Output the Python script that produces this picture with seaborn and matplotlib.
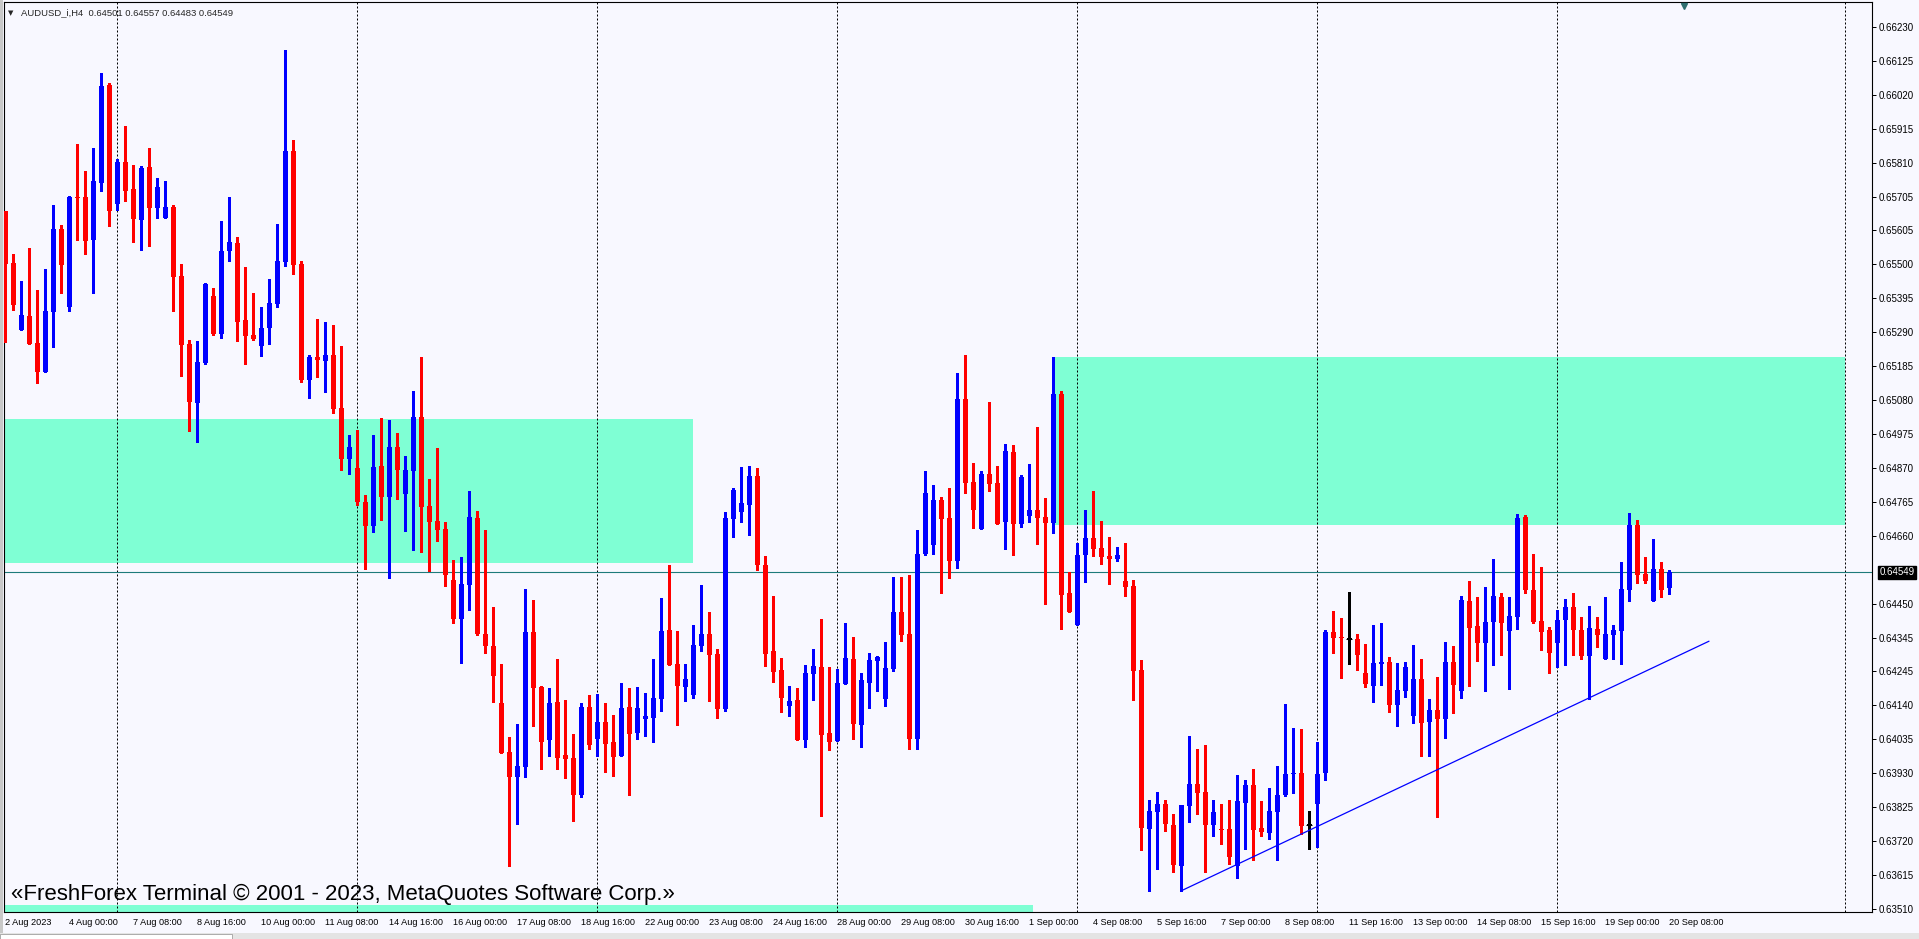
import matplotlib
matplotlib.use("Agg")
import matplotlib.pyplot as plt
import matplotlib.transforms as mtransforms
from matplotlib.patches import Rectangle
import numpy as np
import pandas as pd
import seaborn as sns

# ---- data (2 Aug 16:00 .. 20 Sep 08:00) ----
symbol = "AUDUSD_i,H4"
last_quote = "0.64501 0.64557 0.64483 0.64549"
watermark = "\u00abFreshForex Terminal \u00a9 2001 - 2023, MetaQuotes Software Corp.\u00bb"

opens = [
    0.65663, 0.65502, 0.65296, 0.65339, 0.65256, 0.65166, 0.65351, 0.65607, 0.65366, 0.65706,
    0.65706, 0.65573, 0.65749, 0.66051, 0.65684, 0.65814, 0.65730, 0.65635, 0.65798, 0.65672,
    0.65641, 0.65675, 0.65462, 0.65253, 0.65071, 0.65194, 0.65400, 0.65283, 0.65539, 0.65564,
    0.65326, 0.65280, 0.65246, 0.65302, 0.65376, 0.65505, 0.65848, 0.65499, 0.65141, 0.65212,
    0.65200, 0.65218, 0.65055, 0.64898, 0.64870, 0.64765, 0.64691, 0.64876, 0.64781, 0.64935,
    0.64790, 0.64861, 0.65027, 0.64753, 0.64707, 0.64682, 0.64525, 0.64404, 0.64509, 0.64716,
    0.64358, 0.64321, 0.64145, 0.63994, 0.63917, 0.63948, 0.64364, 0.64195, 0.64031, 0.64149,
    0.63985, 0.63976, 0.63862, 0.64133, 0.64034, 0.64087, 0.64025, 0.63982, 0.64133, 0.64053,
    0.64096, 0.64099, 0.64158, 0.64370, 0.64266, 0.64195, 0.64170, 0.64321, 0.64358, 0.64297,
    0.64127, 0.64713, 0.64734, 0.64756, 0.64845, 0.64571, 0.64306, 0.64247, 0.64136, 0.64155,
    0.64031, 0.64235, 0.64257, 0.64053, 0.64028, 0.64204, 0.64281, 0.64078, 0.64207, 0.64275,
    0.64158, 0.64250, 0.64426, 0.64358, 0.64034, 0.64605, 0.64633, 0.64771, 0.64716, 0.64583,
    0.65083, 0.64827, 0.64682, 0.64852, 0.64824, 0.64704, 0.64919, 0.64698, 0.64722, 0.64741,
    0.64719, 0.64701, 0.65099, 0.64485, 0.64386, 0.64602, 0.64654, 0.64623, 0.64599, 0.64591,
    0.64521, 0.64506, 0.64247, 0.63757, 0.63809, 0.63834, 0.63769, 0.63642, 0.63828, 0.63896,
    0.63871, 0.63769, 0.63757, 0.63757, 0.63642, 0.63837, 0.63893, 0.63760, 0.63744, 0.63809,
    0.63862, 0.63927, 0.63930, 0.63769, 0.63834, 0.63930, 0.64364, 0.64349, 0.64343, 0.64343,
    0.64238, 0.64198, 0.64266, 0.64272, 0.64139, 0.64182, 0.64105, 0.64219, 0.64087, 0.64124,
    0.64096, 0.64272, 0.64182, 0.64460, 0.64383, 0.64330, 0.64395, 0.64472, 0.64367, 0.64410,
    0.64719, 0.64494, 0.64398, 0.64370, 0.64330, 0.64401, 0.64441, 0.64370, 0.64290, 0.64374,
    0.64281, 0.64355, 0.64367, 0.64494, 0.64695, 0.64543, 0.64460, 0.64559, 0.64501,
]
highs = [
    0.65663, 0.65530, 0.65447, 0.65549, 0.65419, 0.65484, 0.65681, 0.65620, 0.65709, 0.65869,
    0.65786, 0.65857, 0.66088, 0.66057, 0.65823, 0.65925, 0.65805, 0.65801, 0.65857, 0.65764,
    0.65755, 0.65681, 0.65499, 0.65265, 0.65262, 0.65441, 0.65425, 0.65632, 0.65706, 0.65582,
    0.65490, 0.65410, 0.65366, 0.65453, 0.65622, 0.66159, 0.65882, 0.65508, 0.65218, 0.65330,
    0.65320, 0.65311, 0.65246, 0.64972, 0.64987, 0.64787, 0.64972, 0.65024, 0.65018, 0.64978,
    0.64907, 0.65107, 0.65212, 0.64836, 0.64932, 0.64704, 0.64586, 0.64596, 0.64799, 0.64738,
    0.64679, 0.64441, 0.64266, 0.64040, 0.64081, 0.64497, 0.64463, 0.64198, 0.64192, 0.64281,
    0.64155, 0.64050, 0.64145, 0.64170, 0.64173, 0.64145, 0.64109, 0.64207, 0.64192, 0.64195,
    0.64176, 0.64281, 0.64469, 0.64571, 0.64367, 0.64266, 0.64386, 0.64510, 0.64426, 0.64312,
    0.64734, 0.64808, 0.64873, 0.64876, 0.64870, 0.64599, 0.64475, 0.64284, 0.64198, 0.64192,
    0.64263, 0.64312, 0.64404, 0.64257, 0.64250, 0.64392, 0.64349, 0.64238, 0.64300, 0.64290,
    0.64334, 0.64534, 0.64534, 0.64540, 0.64679, 0.64861, 0.64818, 0.64781, 0.64808, 0.65163,
    0.65218, 0.64885, 0.64861, 0.65074, 0.64876, 0.64944, 0.64941, 0.64849, 0.64882, 0.64996,
    0.64778, 0.65212, 0.65107, 0.64549, 0.64639, 0.64741, 0.64799, 0.64707, 0.64657, 0.64626,
    0.64639, 0.64525, 0.64278, 0.63846, 0.63871, 0.63846, 0.63803, 0.63831, 0.64043, 0.64003,
    0.64016, 0.63846, 0.63834, 0.63846, 0.63923, 0.63908, 0.63942, 0.63843, 0.63883, 0.63951,
    0.64142, 0.64068, 0.64065, 0.63812, 0.64025, 0.64370, 0.64429, 0.64407, 0.64488, 0.64358,
    0.64327, 0.64386, 0.64392, 0.64287, 0.64269, 0.64272, 0.64324, 0.64281, 0.64158, 0.64225,
    0.64334, 0.64321, 0.64475, 0.64521, 0.64472, 0.64503, 0.64589, 0.64485, 0.64472, 0.64728,
    0.64725, 0.64605, 0.64565, 0.64380, 0.64432, 0.64466, 0.64485, 0.64410, 0.64444, 0.64410,
    0.64472, 0.64386, 0.64580, 0.64731, 0.64710, 0.64596, 0.64651, 0.64580, 0.64557,
]
lows = [
    0.65259, 0.65357, 0.65296, 0.65253, 0.65132, 0.65166, 0.65243, 0.65410, 0.65354, 0.65573,
    0.65530, 0.65410, 0.65724, 0.65616, 0.65666, 0.65693, 0.65567, 0.65542, 0.65555, 0.65641,
    0.65641, 0.65354, 0.65154, 0.64984, 0.64950, 0.65191, 0.65281, 0.65271, 0.65508, 0.65262,
    0.65191, 0.65265, 0.65215, 0.65253, 0.65366, 0.65493, 0.65469, 0.65135, 0.65086, 0.65151,
    0.65105, 0.65040, 0.64864, 0.64852, 0.64756, 0.64559, 0.64673, 0.64710, 0.64531, 0.64775,
    0.64676, 0.64617, 0.64611, 0.64552, 0.64645, 0.64506, 0.64392, 0.64269, 0.64432, 0.64355,
    0.64300, 0.64149, 0.63991, 0.63642, 0.63772, 0.63917, 0.64074, 0.63942, 0.63982, 0.63942,
    0.63914, 0.63781, 0.63855, 0.64003, 0.63982, 0.63933, 0.63920, 0.63982, 0.63862, 0.64034,
    0.64043, 0.64025, 0.64121, 0.64263, 0.64078, 0.64152, 0.64161, 0.64306, 0.64152, 0.64099,
    0.64121, 0.64657, 0.64704, 0.64664, 0.64555, 0.64260, 0.64210, 0.64118, 0.64105, 0.64031,
    0.64010, 0.64155, 0.63797, 0.64000, 0.64028, 0.64204, 0.64034, 0.64010, 0.64130, 0.64182,
    0.64136, 0.64244, 0.64337, 0.64003, 0.64003, 0.64602, 0.64605, 0.64485, 0.64531, 0.64561,
    0.64793, 0.64685, 0.64682, 0.64799, 0.64698, 0.64620, 0.64602, 0.64688, 0.64704, 0.64636,
    0.64451, 0.64670, 0.64374, 0.64426, 0.64386, 0.64518, 0.64599, 0.64574, 0.64513, 0.64583,
    0.64475, 0.64155, 0.63692, 0.63566, 0.63633, 0.63750, 0.63624, 0.63566, 0.63778, 0.63803,
    0.63624, 0.63735, 0.63711, 0.63649, 0.63606, 0.63695, 0.63661, 0.63735, 0.63726, 0.63661,
    0.63859, 0.63868, 0.63741, 0.63695, 0.63701, 0.63908, 0.64300, 0.64222, 0.64266, 0.64247,
    0.64195, 0.64149, 0.64201, 0.64118, 0.64074, 0.64164, 0.64084, 0.63982, 0.63982, 0.63794,
    0.64037, 0.64115, 0.64161, 0.64198, 0.64275, 0.64182, 0.64263, 0.64294, 0.64188, 0.64374,
    0.64485, 0.64392, 0.64309, 0.64238, 0.64257, 0.64263, 0.64294, 0.64281, 0.64158, 0.64318,
    0.64281, 0.64281, 0.64266, 0.64460, 0.64516, 0.64516, 0.64460, 0.64472, 0.64483,
]
closes = [
    0.65499, 0.65373, 0.65342, 0.65253, 0.65166, 0.65354, 0.65607, 0.65496, 0.65706, 0.65703,
    0.65570, 0.65755, 0.66048, 0.65663, 0.65814, 0.65724, 0.65638, 0.65795, 0.65672, 0.65736,
    0.65675, 0.65459, 0.65249, 0.65074, 0.65197, 0.65438, 0.65283, 0.65539, 0.65567, 0.65320,
    0.65277, 0.65268, 0.65302, 0.65379, 0.65508, 0.65848, 0.65496, 0.65141, 0.65212, 0.65203,
    0.65218, 0.65052, 0.64898, 0.64935, 0.64765, 0.64691, 0.64873, 0.64781, 0.64935, 0.64864,
    0.64864, 0.65027, 0.64750, 0.64704, 0.64679, 0.64540, 0.64404, 0.64513, 0.64719, 0.64358,
    0.64321, 0.64228, 0.63991, 0.63917, 0.63951, 0.64364, 0.64192, 0.64025, 0.64145, 0.63976,
    0.63973, 0.63862, 0.64133, 0.64016, 0.64087, 0.64019, 0.63979, 0.64130, 0.64050, 0.64130,
    0.64105, 0.64161, 0.64367, 0.64263, 0.64198, 0.64219, 0.64324, 0.64358, 0.64294, 0.64127,
    0.64716, 0.64802, 0.64762, 0.64845, 0.64571, 0.64297, 0.64241, 0.64161, 0.64152, 0.64031,
    0.64238, 0.64260, 0.64047, 0.64025, 0.64207, 0.64284, 0.64081, 0.64216, 0.64278, 0.64287,
    0.64253, 0.64426, 0.64355, 0.64034, 0.64605, 0.64793, 0.64771, 0.64713, 0.64583, 0.65083,
    0.64824, 0.64741, 0.64852, 0.64821, 0.64698, 0.64922, 0.64698, 0.64842, 0.64741, 0.64716,
    0.64701, 0.65099, 0.64479, 0.64426, 0.64602, 0.64654, 0.64620, 0.64596, 0.64591, 0.64602,
    0.64503, 0.64244, 0.63760, 0.63812, 0.63834, 0.63772, 0.63646, 0.63831, 0.63896, 0.63868,
    0.63769, 0.63809, 0.63754, 0.63670, 0.63843, 0.63893, 0.63754, 0.63748, 0.63812, 0.63862,
    0.63927, 0.63930, 0.63766, 0.63769, 0.63927, 0.64364, 0.64346, 0.64346, 0.64343, 0.64294,
    0.64204, 0.64269, 0.64272, 0.64139, 0.64185, 0.64257, 0.64219, 0.64084, 0.64124, 0.64096,
    0.64272, 0.64201, 0.64463, 0.64377, 0.64330, 0.64395, 0.64475, 0.64392, 0.64414, 0.64716,
    0.64494, 0.64395, 0.64364, 0.64300, 0.64401, 0.64441, 0.64370, 0.64290, 0.64377, 0.64355,
    0.64358, 0.64370, 0.64497, 0.64695, 0.64540, 0.64522, 0.64559, 0.64494, 0.64549,
]

date_labels = [
    "2 Aug 2023", "4 Aug 00:00", "7 Aug 08:00", "8 Aug 16:00", "10 Aug 00:00", "11 Aug 08:00",
    "14 Aug 16:00", "16 Aug 00:00", "17 Aug 08:00", "18 Aug 16:00", "22 Aug 00:00",
    "23 Aug 08:00", "24 Aug 16:00", "28 Aug 00:00", "29 Aug 08:00", "30 Aug 16:00",
    "1 Sep 00:00", "4 Sep 08:00", "5 Sep 16:00", "7 Sep 00:00", "8 Sep 08:00", "11 Sep 16:00",
    "13 Sep 00:00", "14 Sep 08:00", "15 Sep 16:00", "19 Sep 00:00", "20 Sep 08:00",
]
price_ticks = [
    0.66230, 0.66125, 0.66020, 0.65915, 0.65810, 0.65705, 0.65605, 0.65500, 0.65395, 0.65290,
    0.65185, 0.65080, 0.64975, 0.64870, 0.64765, 0.64660, 0.64450, 0.64345, 0.64245, 0.64140,
    0.64035, 0.63930, 0.63825, 0.63720, 0.63615, 0.63510,
]
week_starts = [14, 44, 74, 104, 134, 164, 194, 230]

# supply/demand rectangles: (first bar, last bar, low, high)
zone_left = (-10, 86, 0.64577, 0.65022)
zone_right = (131, 230, 0.64693, 0.65212)
zone_floor = (-10, 128.5, 0.63400, 0.63524)

trend_bars = [147, 213]
trend_prices = [0.63566, 0.64336]
bid = 0.64549

# ---- style ----
sns.set_style("white")
plt.rcParams["font.family"] = ["Liberation Sans", "DejaVu Sans"]
BG = "#F8F8FF"
ZONE = "#7FFFD4"
BULL, BEAR, FLAT = "#0000FF", "#FF0000", "#000000"

W, H = 1919, 939
fig = plt.figure(figsize=(W / 100, H / 100), dpi=100, facecolor=BG)
ax = fig.add_axes([4 / W, (H - 912) / H, 1868 / W, 910 / H])
ax.set_facecolor(BG)

df = pd.DataFrame({"o": opens, "h": highs, "l": lows, "c": closes})
df["bar"] = np.arange(len(df))
df["color"] = np.where(df["c"] > df["o"], BULL, np.where(df["c"] < df["o"], BEAR, FLAT))

for x0, x1, lo, hi in (zone_left, zone_right, zone_floor):
    ax.add_patch(Rectangle((x0, lo), x1 - x0, hi - lo, facecolor=ZONE, edgecolor="none", zorder=1))

for s in week_starts:
    ax.axvline(s, color="black", lw=0.72, ls=(0, (2, 2)), zorder=2)

ax.axhline(bid, color="#1E7B7B", lw=0.8, zorder=2)

# candles
ax.vlines(df["bar"], df["l"], df["h"], colors=df["color"], lw=0.75, zorder=3, antialiased=False)
body_lo = np.minimum(df["o"], df["c"])
body_h = np.maximum((df["c"] - df["o"]).abs(), 0.000031)
ax.bar(df["bar"], body_h, bottom=body_lo, width=0.625, color=df["color"], lw=0,
       zorder=4, antialiased=False)
flat = df[df["o"] == df["c"]]
ax.hlines(flat["o"], flat["bar"] - 0.4, flat["bar"] + 0.4, colors=FLAT, lw=0.75, zorder=4)

# trend line
trend = pd.DataFrame({"bar": trend_bars, "price": trend_prices})
sns.lineplot(data=trend, x="bar", y="price", ax=ax, color="#0000FF", lw=0.9, zorder=5,
             legend=False)

ax.set_xlim(-0.125, 233.375)
ax.set_ylim(0.63501, 0.66307)

ax.yaxis.tick_right()
ax.set_yticks(price_ticks, [f"{p:.5f}" for p in price_ticks])
ax.set_xticks(np.arange(0, len(df), 8), date_labels)
for lab in ax.get_xticklabels():
    lab.set_horizontalalignment("left")
ax.tick_params(axis="y", direction="out", length=3, width=0.72, pad=2, labelsize=7,
               colors="black", right=True, left=False)
ax.tick_params(axis="x", direction="out", length=2.5, width=0.72, pad=1.5, labelsize=6.6,
               colors="black")
ax.set_xlabel("")
ax.set_ylabel("")
for sp in ax.spines.values():
    sp.set_color("black")
    sp.set_linewidth(0.8)
    sp.set_visible(True)

# current price tag
tr = mtransforms.blended_transform_factory(ax.transAxes, ax.transData)
ax.annotate(f"{bid:.5f}", xy=(1, bid), xycoords=tr, xytext=(5.6, 0), textcoords="offset points",
            ha="left", va="center", fontsize=7, color="white", annotation_clip=False,
            bbox=dict(boxstyle="square,pad=0.15", fc="black", ec="black"))

# chart shift marker
ax.plot([209.9], [0.66295], marker="v", ms=5, color="#2F6F6F", clip_on=False, zorder=6)

# header and watermark
fig.text(8 / W, 1 - 12.7 / H, "\u25bc", fontsize=5, family="DejaVu Sans", va="center")
fig.text(21 / W, 1 - 12.7 / H, f"{symbol}  {last_quote}", fontsize=6.8, va="center")
fig.text(11 / W, 1 - 894 / H, watermark, fontsize=16, va="center", color="black")

# window frame bits
fig.patches.append(Rectangle((0, 0), 3 / W, 1, transform=fig.transFigure, fc="#C8C8C8",
                             ec="none", zorder=0))
fig.patches.append(Rectangle((0, 0), 1, 6 / H, transform=fig.transFigure, fc="#E4E4E4",
                             ec="none", zorder=0))
fig.patches.append(Rectangle((0, 0), 232 / W, 5 / H, transform=fig.transFigure, fc="white",
                             ec="#A0A0A0", lw=0.6, zorder=0))

fig.savefig("out.png", dpi=100, facecolor=BG)
